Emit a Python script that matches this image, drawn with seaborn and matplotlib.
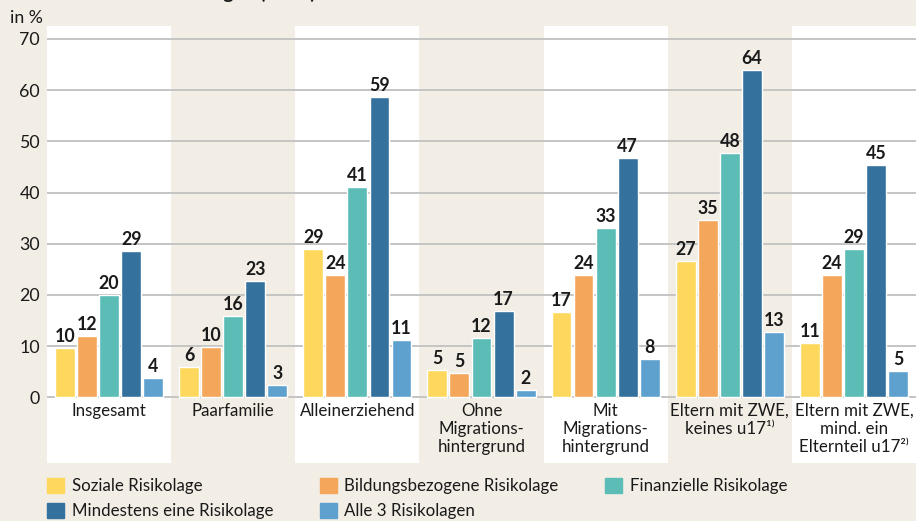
import pandas as pd
import matplotlib.pyplot as plt
import seaborn as sns

# Data (bar heights in %, printed labels are rounded)
groups = ["Insgesamt", "Paarfamilie", "Alleinerziehend",
          "Ohne\nMigrations-\nhintergrund", "Mit\nMigrations-\nhintergrund",
          "Eltern mit ZWE,\nkeines u17¹⁾", "Eltern mit ZWE,\nmind. ein\nElternteil u17²⁾"]
risks = ["Soziale Risikolage", "Bildungsbezogene Risikolage", "Finanzielle Risikolage",
         "Mindestens eine Risikolage", "Alle 3 Risikolagen"]

soziale = [9.7, 6.0, 29.0, 5.4, 16.7, 26.7, 10.6]
bildung = [12.0, 9.9, 23.9, 4.8, 23.9, 34.7, 23.9]
finanz = [20.0, 15.9, 41.1, 11.6, 33.1, 47.7, 29.0]
mindestens = [28.6, 22.7, 58.7, 16.9, 46.8, 64.0, 45.4]
alle3 = [3.8, 2.5, 11.2, 1.5, 7.5, 12.8, 5.2]

lab_soziale = [10, 6, 29, 5, 17, 27, 11]
lab_bildung = [12, 10, 24, 5, 24, 35, 24]
lab_finanz = [20, 16, 41, 12, 33, 48, 29]
lab_mindestens = [29, 23, 59, 17, 47, 64, 45]
lab_alle3 = [4, 3, 11, 2, 8, 13, 5]

colors = ["#FDD85D", "#F4A65A", "#5BBDB6", "#35719D", "#5EA1CE"]
bg = "#F2EDE5"

series = [soziale, bildung, finanz, mindestens, alle3]
labels = [lab_soziale, lab_bildung, lab_finanz, lab_mindestens, lab_alle3]

rows = []
for r, vals in zip(risks, series):
    for g, v in zip(groups, vals):
        rows.append({"Gruppe": g, "Risikolage": r, "Wert": v})
df = pd.DataFrame(rows)

sns.set_theme(style="white")
plt.rcParams["font.family"] = ["Lato", "DejaVu Sans"]
plt.rcParams["text.color"] = "#1a1a1a"
fs = 12.8

fig = plt.figure(figsize=(9.16, 5.21), dpi=100, facecolor=bg)
W, H = 916, 521
ax = fig.add_axes([47 / W, (H - 463) / H, 1 - 47 / W, (463 - 26) / H])
ax.set_facecolor(bg)

# alternating white bands
for i in range(0, len(groups), 2):
    ax.axvspan(i - 0.5, i + 0.5, color="white", zorder=0, lw=0)

sns.barplot(data=df, x="Gruppe", y="Wert", hue="Risikolage", palette=colors,
            saturation=1, width=0.89, gap=0.1, ax=ax, legend=False, zorder=3)

for cont, labs in zip(ax.containers, labels):
    ax.bar_label(cont, labels=[str(l) for l in labs], padding=2,
                 fontsize=fs, fontweight="bold", color="#1a1a1a")

ax.set_xlim(-0.5, len(groups) - 0.5)
ax.set_ylim(-12.8, 72.5)
ax.set_yticks(range(0, 71, 10))
ax.tick_params(axis="y", length=0, pad=5, labelsize=fs, labelcolor="#1a1a1a")
ax.set_xticks([])
ax.set_xlabel("")
ax.set_ylabel("")
for s in ax.spines.values():
    s.set_visible(False)
for t in range(0, 71, 10):
    ax.axhline(t, color="#c4c4c4", lw=1.4, zorder=1)

for i, g in enumerate(groups):
    ax.text(i, -1.1, g, ha="center", va="top", fontsize=12.2,
            linespacing=1.15, color="#1a1a1a")

fig.text(10 / W, (H - 18) / H, "in %", ha="left", va="center", fontsize=fs)
fig.text(316 / W, (H + 1) / H, "Kinder in Risikolagen (2019)", ha="right",
         va="baseline", fontsize=14, fontweight="bold")

handles = [plt.Rectangle((0, 0), 1, 1, color=c) for c in colors]
order = [0, 3, 1, 4, 2]
fig.legend([handles[i] for i in order], [risks[i] for i in order],
           ncol=3, loc="upper left", bbox_to_anchor=(47 / W, (H - 478) / H),
           frameon=False, fontsize=12.2, borderpad=0, borderaxespad=0,
           handlelength=1.0, handleheight=1.0, handletextpad=0.45,
           labelspacing=0.5, columnspacing=2.75)

fig.savefig("out.png", dpi=100, facecolor=bg)
